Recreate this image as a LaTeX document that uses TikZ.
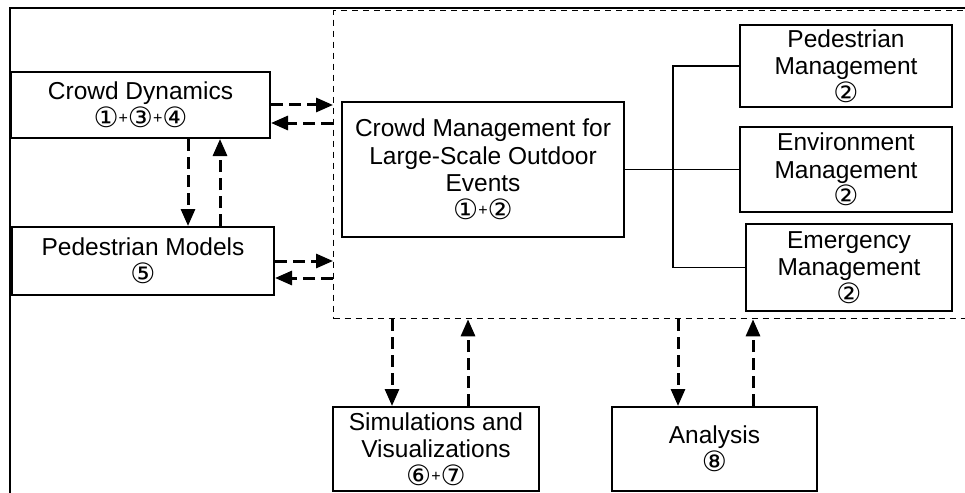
\documentclass[tikz,border=0pt]{standalone}
\usepackage{fontspec}
\setmainfont{Liberation Sans}
\newfontfamily\circfont{DejaVu Sans}
\usetikzlibrary{arrows.meta}
\newcommand{\cn}[1]{{\circfont\fontsize{28}{27}\selectfont #1}}
\newcommand{\pl}{\raisebox{4pt}{\fontsize{16}{27}\selectfont +}}
\tikzset{
  blk/.style={draw, rectangle, line width=2pt, inner sep=0pt, align=center,
    font=\fontsize{24.5}{27.5}\selectfont},
  link/.style={dashed, line width=3pt, dash pattern=on 12pt off 6pt,
    -{Triangle[length=17pt,width=14pt]}},
  dashbox/.style={draw, rectangle, dashed, line width=1.3pt, dash pattern=on 6pt off 5pt}
}
\begin{document}
\begin{tikzpicture}[x=1pt, y=-1pt]
  \useasboundingbox (0,0) rectangle (965,492);
  \draw[line width=2pt] (10,700) -- (10,8) -- (1100,8);
  \node[dashbox, anchor=north west, minimum width=760pt, minimum height=308pt] (core) at (333,10) {};

  \node[blk, minimum width=259pt, minimum height=66pt] (dyn) at (140.5,105) {Crowd Dynamics\\\cn{①}\pl\cn{③}\pl\cn{④}};
  \node[blk, minimum width=262pt, minimum height=68pt] (pedmod) at (143,261) {Pedestrian Models\\\cn{⑤}};
  \node[blk, minimum width=282pt, minimum height=135pt] (cm) at (483,169.5) {Crowd Management for\\Large-Scale Outdoor\\Events\\\cn{①}\pl\cn{②}};
  \node[blk, minimum width=212pt, minimum height=82pt] (pm) at (846,66) {Pedestrian\\Management\\\cn{②}};
  \node[blk, minimum width=212pt, minimum height=85pt] (envm) at (846,169.5) {Environment\\Management\\\cn{②}};
  \node[blk, minimum width=206pt, minimum height=87pt] (emg) at (849,267.5) {Emergency\\Management\\\cn{②}};
  \node[blk, minimum width=206pt, minimum height=84pt] (sim) at (436,449) {Simulations and\\Visualizations\\\cn{⑥}\pl\cn{⑦}};
  \node[blk, minimum width=205pt, minimum height=84pt] (ana) at (714.5,449) {Analysis\\\cn{⑧}};

  \coordinate (hub) at (673,169.5);
  \draw[line width=1.5pt] (cm.east) -- (hub);
  \draw[line width=1.5pt] (pm.west) -| (hub) |- (emg.west);
  \draw[line width=1.5pt] (hub) -- (envm.west);

  \draw[link] (dyn.east) -- (dyn.east -| core.west);
  \draw[link] ([yshift=-18pt]dyn.east -| core.west) -- ([yshift=-18pt]dyn.east);
  \draw[link] (pedmod.east) -- (pedmod.east -| core.west);
  \draw[link] ([yshift=-17pt]pedmod.east -| core.west) -- ([yshift=-17pt]pedmod.east);

  \draw[link] ([xshift=47.5pt]dyn.south) -- ([xshift=47.5pt]dyn.south |- pedmod.north);
  \draw[link] ([xshift=79.5pt]dyn.south |- pedmod.north) -- ([xshift=79.5pt]dyn.south);

  \draw[link] ([xshift=-44pt]sim.north |- core.south) -- ([xshift=-44pt]sim.north);
  \draw[link] ([xshift=32pt]sim.north) -- ([xshift=32pt]sim.north |- core.south);
  \draw[link] ([xshift=-36.5pt]ana.north |- core.south) -- ([xshift=-36.5pt]ana.north);
  \draw[link] ([xshift=38.5pt]ana.north) -- ([xshift=38.5pt]ana.north |- core.south);
\end{tikzpicture}
\end{document}
